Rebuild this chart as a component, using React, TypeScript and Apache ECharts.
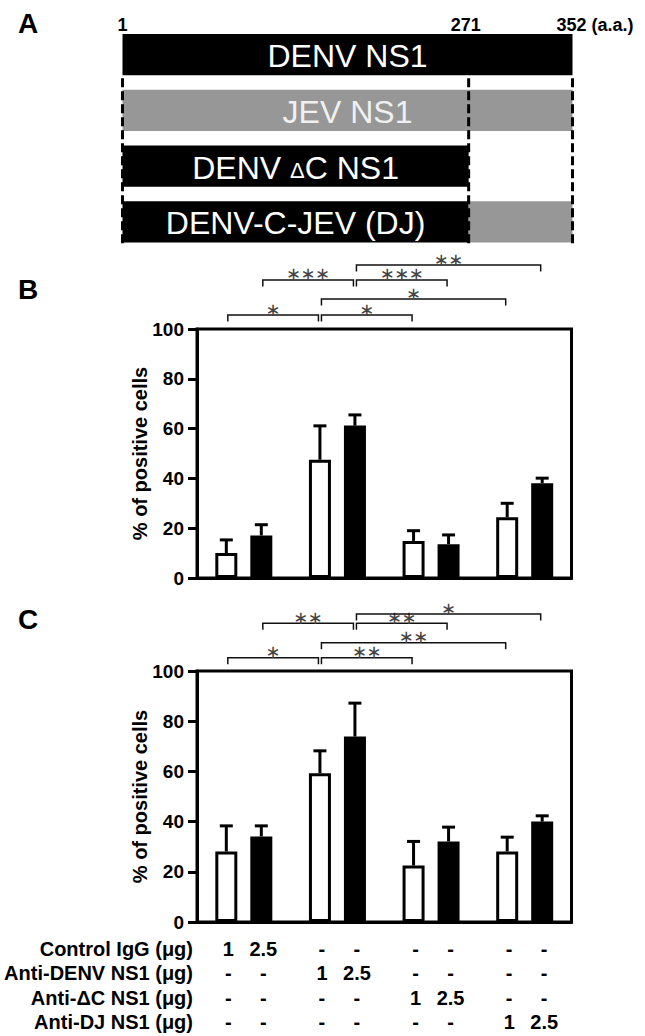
import React, { useEffect, useRef } from "react";
import * as echarts from "echarts";

// ---------- Panel A : domain schematic (amino-acid positions) ----------
const domainRows = ["DENV NS1", "JEV NS1", "DENV ΔC NS1", "DENV-C-JEV (DJ)"];
// [row, start a.a., end a.a., kind(0 = DENV black, 1 = JEV gray)]
const domainSegments = [
  [0, 1, 352, 0],
  [1, 1, 352, 1],
  [2, 1, 271, 0],
  [3, 1, 271, 0],
  [3, 271, 352, 1],
];
// label span per row: [row, from, to]
const domainLabelSpan = [
  [0, 1, 352],
  [1, 1, 352],
  [2, 1, 271],
  [3, 1, 271],
];
const aaMarks = [1, 271, 352];
const aaLabels = ["1", "271", "352 (a.a.)"];

// ---------- Panels B & C ----------
const groups = ["Control IgG", "Anti-DENV NS1", "Anti-ΔC NS1", "Anti-DJ NS1"];
const yTicks = { min: 0, max: 100, interval: 20 };

const bMean1 = [10.0, 47.5, 14.9, 24.4];
const bSd1 = [5.3, 13.6, 4.1, 5.6];
const bMean25 = [17.1, 61.2, 13.6, 38.1];
const bSd25 = [4.3, 4.3, 3.7, 2.0];

const cMean1 = [28.1, 59.3, 22.5, 28.1];
const cSd1 = [10.2, 8.9, 9.6, 5.7];
const cMean25 = [34.1, 73.9, 32.1, 40.0];
const cSd25 = [4.2, 13.3, 5.7, 2.3];

// [fromGroup, fromDose, toGroup, toDose, level(%), number of stars]
const bBrackets = [
  [0, 0, 1, 0, 105.6, 1],
  [1, 0, 2, 0, 105.6, 1],
  [1, 0, 3, 0, 112.0, 1],
  [0, 1, 1, 1, 119.7, 3],
  [1, 1, 2, 1, 119.7, 3],
  [1, 1, 3, 1, 125.7, 2],
];
const cBrackets = [
  [0, 0, 1, 0, 105.3, 1],
  [1, 0, 2, 0, 105.3, 2],
  [1, 0, 3, 0, 111.3, 2],
  [0, 1, 1, 1, 119.0, 2],
  [1, 1, 2, 1, 119.0, 2],
  [1, 1, 3, 1, 122.7, 1],
];

const tableRows = ["Control IgG (μg)", "Anti-DENV NS1 (μg)", "Anti-ΔC NS1 (μg)", "Anti-DJ NS1 (μg)"];
const tableCells = [
  ["1", "2.5", "-", "-", "-", "-", "-", "-"],
  ["-", "-", "1", "2.5", "-", "-", "-", "-"],
  ["-", "-", "-", "-", "1", "2.5", "-", "-"],
  ["-", "-", "-", "-", "-", "-", "1", "2.5"],
];

// ---------- styles ----------
const FONT = "'Liberation Sans', Arial, Helvetica, sans-serif";
const BAR_W = 22;
const BAR_GAP = 13;
const OFF = (BAR_W + BAR_GAP) / 2;

function errData(m1: number[], s1: number[], m2: number[], s2: number[]) {
  const out: number[][] = [];
  m1.forEach((m, i) => out.push([i, m, s1[i], 0]));
  m2.forEach((m, i) => out.push([i, m, s2[i], 1]));
  return out;
}

function errRender(_p: any, api: any) {
  const g = api.value(0);
  const m = api.value(1);
  const sd = api.value(2);
  const sub = api.value(3);
  const base = api.coord([g, m]);
  const top = api.coord([g, m + sd]);
  const x = base[0] + (sub ? OFF : -OFF);
  return {
    type: "group",
    children: [
      { type: "line", shape: { x1: x, y1: base[1], x2: x, y2: top[1] }, style: { stroke: "#000", lineWidth: 3 } },
      { type: "line", shape: { x1: x - 6.5, y1: top[1], x2: x + 6.5, y2: top[1] }, style: { stroke: "#000", lineWidth: 3 } },
    ],
  };
}

function bracketRender(_p: any, api: any) {
  const g1 = api.value(0);
  const s1 = api.value(1);
  const g2 = api.value(2);
  const s2 = api.value(3);
  const lv = api.value(4);
  const n = api.value(5);
  const p1 = api.coord([g1, lv]);
  const p2 = api.coord([g2, lv]);
  const x1 = p1[0] + (s1 ? OFF : -OFF) + 1.5;
  const x2 = p2[0] + (s2 ? OFF : -OFF) - 1.5;
  const y = p1[1];
  const mid = (x1 + x2) / 2;
  const children: any[] = [
    {
      type: "polyline",
      shape: { points: [[x1, y + 6.5], [x1, y], [x2, y], [x2, y + 6.5]] },
      style: { stroke: "#111", lineWidth: 1.5, fill: null },
    },
  ];
  for (let i = 0; i < n; i++) {
    children.push({
      type: "text",
      x: mid + (i - (n - 1) / 2) * 14.5,
      y: y - 6,
      style: {
        text: "∗",
        fill: "#444",
        fontSize: 18,
        fontFamily: "'DejaVu Sans', sans-serif",
        align: "center",
        verticalAlign: "middle",
      },
    });
  }
  return { type: "group", children };
}

function tableRender(_p: any, api: any) {
  const r = api.value(2);
  const origin = api.coord([0, 0]);
  const y = origin[1] + 27 + r * 24.3;
  const children: any[] = [
    {
      type: "text",
      x: 193,
      y,
      style: { text: tableRows[r], fill: "#000", fontSize: 20, fontWeight: "bold", fontFamily: FONT, align: "right", verticalAlign: "middle" },
    },
  ];
  tableCells[r].forEach((t, c) => {
    const g = Math.floor(c / 2);
    const p = api.coord([g, 0]);
    children.push({
      type: "text",
      x: p[0] + (c % 2 ? OFF : -OFF) + 2,
      y,
      style: { text: t, fill: "#000", fontSize: 20, fontWeight: "bold", fontFamily: FONT, align: "center", verticalAlign: "middle" },
    });
  });
  return { type: "group", children };
}

function segRender(_p: any, api: any) {
  const row = api.value(0);
  const s = api.value(1);
  const e = api.value(2);
  const kind = api.value(3);
  const p1 = api.coord([s, row]);
  const p2 = api.coord([e, row]);
  const h = api.size([0, 1])[1] * 0.74;
  return {
    type: "rect",
    shape: { x: p1[0], y: p1[1] - h / 2, width: p2[0] - p1[0], height: h },
    style: { fill: kind ? "#979797" : "#000" },
  };
}

function segLabelRender(_p: any, api: any) {
  const row = api.value(0);
  const s = api.value(1);
  const e = api.value(2);
  const p1 = api.coord([s, row]);
  const p2 = api.coord([e, row]);
  const x = (p1[0] + p2[0]) / 2;
  const y = p1[1] + 1.5;
  const name = domainRows[row];
  const base = { fill: row === 1 ? "#f0f0f0" : "#fff", fontSize: 32, fontFamily: FONT, align: "center", verticalAlign: "middle" };
  if (name.indexOf("Δ") >= 0) {
    const parts = name.split("Δ");
    return {
      type: "text",
      x,
      y,
      style: {
        ...base,
        text: "{a|" + parts[0] + "}{d|Δ}{a|" + parts[1] + "}",
        rich: {
          a: { fontSize: 32, fontFamily: FONT, fill: "#fff" },
          d: { fontSize: 22, fontFamily: FONT, fill: "#fff", padding: [6, 0, 0, 0] },
        },
      },
    };
  }
  return { type: "text", x, y, style: { ...base, text: name } };
}

function markRender(p: any, api: any) {
  const m = api.value(0);
  const top = api.coord([m, 0]);
  const bot = api.coord([m, 3]);
  const h = api.size([0, 1])[1] * 0.74;
  const label = aaLabels[p.dataIndex];
  const isLast = p.dataIndex === aaMarks.length - 1;
  return {
    type: "group",
    children: [
      {
        type: "line",
        shape: { x1: top[0], y1: top[1] + h / 2 + 3, x2: top[0], y2: bot[1] + h / 2 + 1 },
        style: { stroke: "#000", lineWidth: 3, lineDash: [9, 4] },
      },
      {
        type: "text",
        x: isLast ? top[0] - 16 : top[0] - (p.dataIndex === 1 ? 3 : 0),
        y: top[1] - h / 2 - 9,
        style: {
          text: label,
          fill: "#000",
          fontSize: 18,
          fontWeight: "bold",
          fontFamily: FONT,
          align: isLast ? "left" : "center",
          verticalAlign: "middle",
        },
      },
    ],
  };
}

function barPanel(idx: number, m1: number[], m2: number[], s1: number[], s2: number[], br: number[][], withTable: boolean) {
  const series: any[] = [
    {
      type: "bar",
      name: "1 μg",
      xAxisIndex: idx,
      yAxisIndex: idx,
      data: m1,
      barWidth: BAR_W,
      barGap: (BAR_GAP / BAR_W) * 100 + "%",
      itemStyle: { color: "#fff", borderColor: "#000", borderWidth: 3 },
      z: 2,
    },
    {
      type: "bar",
      name: "2.5 μg",
      xAxisIndex: idx,
      yAxisIndex: idx,
      data: m2,
      barWidth: BAR_W,
      barGap: (BAR_GAP / BAR_W) * 100 + "%",
      itemStyle: { color: "#000", borderColor: "#000", borderWidth: 3 },
      z: 2,
    },
    {
      type: "custom",
      xAxisIndex: idx,
      yAxisIndex: idx,
      data: errData(m1, s1, m2, s2),
      encode: { x: 0, y: 1 },
      renderItem: errRender,
      clip: false,
      z: 3,
    },
    {
      type: "custom",
      xAxisIndex: idx,
      yAxisIndex: idx,
      data: br,
      encode: { x: 0, y: 4 },
      renderItem: bracketRender,
      clip: false,
      z: 3,
    },
  ];
  if (withTable) {
    series.push({
      type: "custom",
      xAxisIndex: idx,
      yAxisIndex: idx,
      data: tableRows.map((_, r) => [0, 0, r]),
      encode: { x: 0, y: 1 },
      renderItem: tableRender,
      clip: false,
      z: 3,
    });
  }
  return series;
}

const catAxis = (gridIndex: number) => ({
  type: "category",
  gridIndex,
  data: groups,
  axisLine: { lineStyle: { color: "#000", width: 3 } },
  axisTick: { alignWithLabel: true, length: 6, lineStyle: { color: "#000", width: 3 } },
  axisLabel: { show: false },
});

const valAxis = (gridIndex: number) => ({
  type: "value",
  gridIndex,
  min: yTicks.min,
  max: yTicks.max,
  interval: yTicks.interval,
  name: "% of positive cells",
  nameLocation: "middle",
  nameGap: 47,
  nameMoveOverlap: false,
  nameRotate: 90,
  nameTextStyle: { color: "#000", fontSize: 20, fontWeight: "bold", fontFamily: FONT },
  axisLine: { show: true, lineStyle: { color: "#000", width: 3 } },
  axisTick: { show: true, length: 9, lineStyle: { color: "#000", width: 3 } },
  axisLabel: { color: "#000", fontSize: 19, fontWeight: "bold", fontFamily: FONT, margin: 13 },
  splitLine: { show: false },
});

export default function App() {
  const ref = useRef<HTMLDivElement>(null);
  useEffect(() => {
    if (!ref.current) return;
    const chart = echarts.init(ref.current, undefined, { renderer: "svg" });
    const option: any = {
      animation: false,
      backgroundColor: "#fff",
      grid: [
        { left: 122.5, top: 26.8, width: 450, height: 223, show: false },
        { left: 197, top: 329, width: 374.5, height: 249, show: true, borderColor: "#000", borderWidth: 3 },
        { left: 197, top: 671, width: 374.5, height: 251, show: true, borderColor: "#000", borderWidth: 3 },
      ],
      xAxis: [
        { type: "value", gridIndex: 0, min: 1, max: 352, show: false },
        catAxis(1),
        catAxis(2),
      ],
      yAxis: [
        { type: "category", gridIndex: 0, data: [0, 1, 2, 3], inverse: true, show: false },
        valAxis(1),
        valAxis(2),
      ],
      graphic: [
        { type: "text", left: 18, top: 9, style: { text: "A", fontSize: 28, fontWeight: "bold", fontFamily: FONT, fill: "#000" } },
        { type: "text", left: 18, top: 275, style: { text: "B", fontSize: 28, fontWeight: "bold", fontFamily: FONT, fill: "#000" } },
        { type: "text", left: 18, top: 605, style: { text: "C", fontSize: 28, fontWeight: "bold", fontFamily: FONT, fill: "#000" } },
      ],
      series: [
        {
          type: "custom",
          xAxisIndex: 0,
          yAxisIndex: 0,
          data: domainSegments,
          encode: { x: [1, 2], y: 0 },
          renderItem: segRender,
          clip: false,
          z: 1,
        },
        {
          type: "custom",
          xAxisIndex: 0,
          yAxisIndex: 0,
          data: domainLabelSpan,
          encode: { x: [1, 2], y: 0 },
          renderItem: segLabelRender,
          clip: false,
          z: 3,
        },
        {
          type: "custom",
          xAxisIndex: 0,
          yAxisIndex: 0,
          data: aaMarks.map((m) => [m, 0]),
          encode: { x: 0, y: 1 },
          renderItem: markRender,
          clip: false,
          z: 2,
        },
        ...barPanel(1, bMean1, bMean25, bSd1, bSd25, bBrackets, false),
        ...barPanel(2, cMean1, cMean25, cSd1, cSd25, cBrackets, true),
      ],
    };
    chart.setOption(option);
    return () => chart.dispose();
  }, []);
  return <div ref={ref} style={{ position: "absolute", left: 0, top: 0, width: 645, height: 1036 }} />;
}
